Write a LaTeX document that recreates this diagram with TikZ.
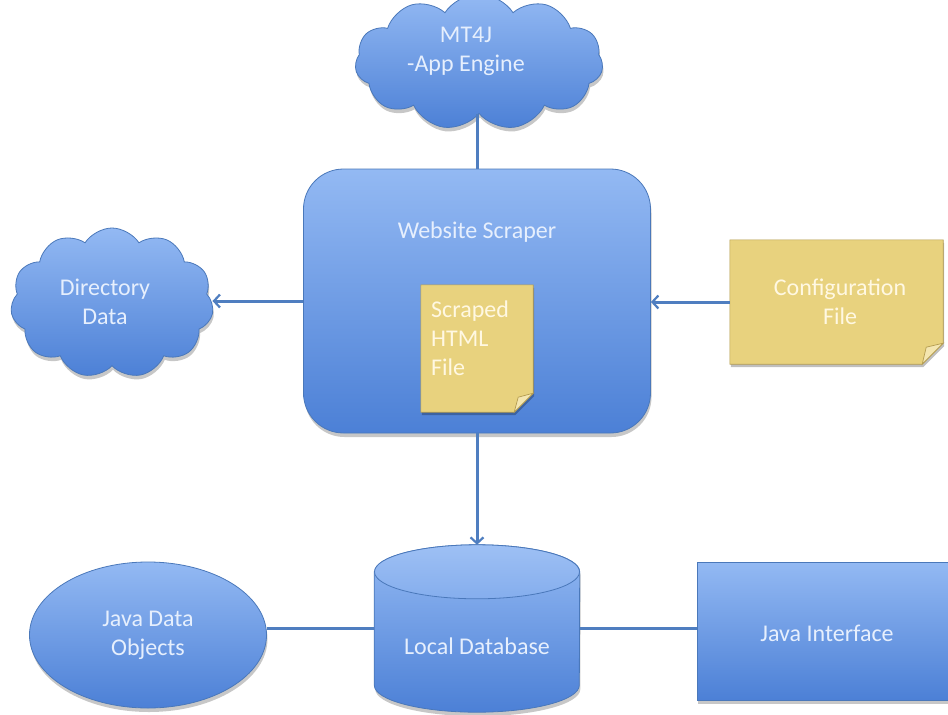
\documentclass[tikz,border=0pt]{standalone}
\usepackage{fontspec}
\setmainfont{Carlito}
\usetikzlibrary{shapes.symbols,shapes.geometric,arrows.meta,shadows}
\definecolor{bluetop}{HTML}{93B9F3}
\definecolor{bluebot}{HTML}{4C80D6}
\definecolor{blueedge}{HTML}{4A78BA}
\definecolor{linecol}{HTML}{4F7EC0}
\definecolor{notefill}{HTML}{E8D27E}
\definecolor{noteedge}{HTML}{B49C50}
\definecolor{foldfill}{HTML}{F4E6B0}
\definecolor{txtblue}{HTML}{E6EFFD}
\definecolor{txtnote}{HTML}{FFF8E2}
\tikzset{
  shp/.style={draw=blueedge, line width=0.8pt, top color=bluetop, bottom color=bluebot,
    drop shadow={shadow xshift=1pt, shadow yshift=-4pt, opacity=0.22, fill=black}},
  cloudbox/.style={shp, cloud, cloud puffs=11, cloud puff arc=115, aspect=1.5, inner sep=0pt},
  ghost/.style={draw=none, fill=none, inner sep=0pt, rectangle},
  notebody/.style={fill=notefill, draw=noteedge, line width=0.6pt,
    drop shadow={shadow xshift=1pt, shadow yshift=-3pt, opacity=0.25, fill=black}},
  foldpart/.style={fill=foldfill, draw=noteedge, line width=0.7pt},
  lbl/.style={text=txtblue, align=center, inner sep=0pt, font=\fontsize{24}{29}\selectfont},
  notelbl/.style={text=txtnote, inner sep=0pt, font=\fontsize{24}{29}\selectfont},
  conn/.style={draw=linecol, line width=3pt},
  arr/.style={conn, -{Straight Barb[length=6pt, width=13pt, line width=2.2pt]}},
}
\begin{document}
\begin{tikzpicture}[x=1pt, y=-1pt]
\useasboundingbox (0,0) rectangle (948,715);
\clip (0,0) rectangle (948,715);
\fill[white] (0,0) rectangle (948,715);

% clouds
\node[cloudbox, minimum width=248pt, minimum height=136pt] (mt) at (479,62) {};
\node[lbl] (mtt) at (466,51) {MT4J\\-App Engine};

\node[cloudbox, minimum width=203pt, minimum height=150pt] (dir) at (112,303) {};
\node[lbl] (dirt) at (105,302) {Directory\\Data};

% scraper
\node[shp, rectangle, rounded corners=40pt, minimum width=347pt, minimum height=264pt] (ws) at (477,301) {};
\node[lbl] (wst) at (477,232) {Website Scraper};

% scraped html note
\node[ghost, minimum width=112pt, minimum height=127pt] (html) at (477,348.5) {};
\path[notebody] (html.north west) -- (html.north east) -- ([yshift=19pt]html.south east)
  -- ([xshift=-19pt]html.south east) -- (html.south west) -- cycle;
\path[foldpart] ([yshift=19pt]html.south east) -- ([xshift=-15pt,yshift=15pt]html.south east)
  -- ([xshift=-19pt]html.south east) -- cycle;
\node[notelbl, align=left, anchor=west] (htmlt) at (431,338) {Scraped\\HTML\\File};

% configuration note
\node[ghost, minimum width=213pt, minimum height=124pt] (cfg) at (836.5,302) {};
\path[notebody] (cfg.north west) -- (cfg.north east) -- ([yshift=21pt]cfg.south east)
  -- ([xshift=-21pt]cfg.south east) -- (cfg.south west) -- cycle;
\path[foldpart] ([yshift=21pt]cfg.south east) -- ([xshift=-17pt,yshift=17pt]cfg.south east)
  -- ([xshift=-21pt]cfg.south east) -- cycle;
\node[notelbl, align=center] (cfgt) at (840,302) {Configuration\\File};

% local database cylinder
\node[ghost, minimum width=205pt, minimum height=167pt] (db) at (477,628.5) {};
\path[shp] ([yshift=-27pt]db.north west) -- ([yshift=27pt]db.south west)
  arc[start angle=180, end angle=360, x radius=102.5pt, y radius=27pt]
  -- ([yshift=-27pt]db.north east)
  arc[start angle=0, end angle=180, x radius=102.5pt, y radius=27pt] -- cycle;
\path[draw=blueedge, line width=0.8pt, top color=bluetop!90!white, bottom color=bluetop!80!bluebot]
  ([yshift=-27pt]db.north) ellipse[x radius=102.5pt, y radius=27pt];
\node[lbl] (dbt) at (477,646) {Local Database};

% java data objects
\node[shp, ellipse, minimum width=237pt, minimum height=146pt, inner sep=0pt] (jdo) at (148,635) {};
\node[lbl] (jdot) at (148,635) {Java Data\\Objects};

% java interface
\node[shp, rectangle, minimum width=260pt, minimum height=138pt] (ji) at (827,631) {};
\node[lbl] (jit) at (827,633) {Java Interface};

% connectors
\draw[conn] (ws.north) -- (ws.north |- mt.south);
\draw[arr] (ws.west) -- (ws.west -| dir.east);
\draw[arr] (cfg.west) -- (cfg.west -| ws.east);
\draw[arr] (ws.south) -- (db.north);
\draw[conn] (db.west) -- (db.west -| jdo.east);
\draw[conn] (db.east) -- (db.east -| ji.west);
\end{tikzpicture}
\end{document}
